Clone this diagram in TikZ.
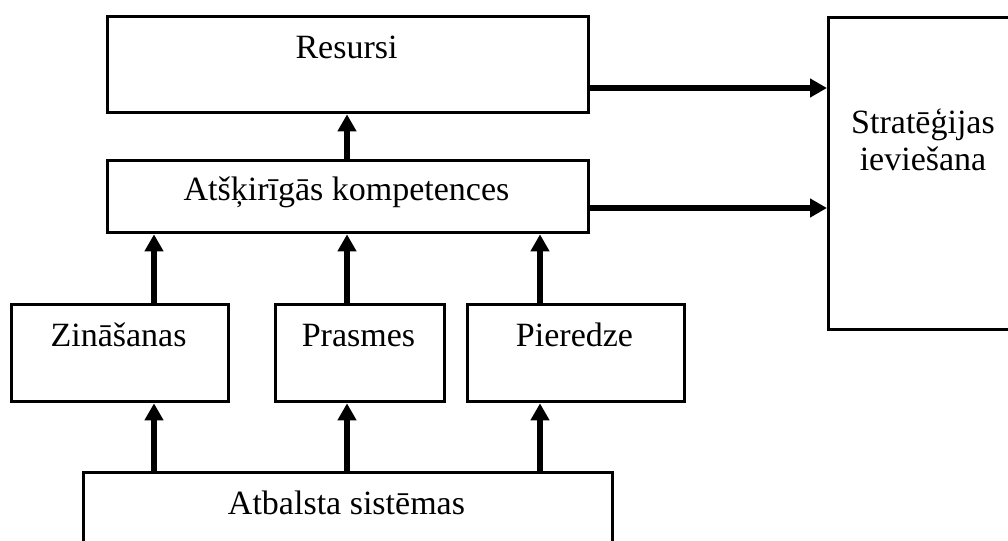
\documentclass[tikz,border=0pt]{standalone}
\usepackage{fontspec}
\setmainfont{Liberation Serif}
\usetikzlibrary{arrows.meta}
\begin{document}
\begin{tikzpicture}[x=0.75pt,y=-0.75pt,
  box/.style={draw=black,line width=2.5pt,inner sep=0pt,anchor=north west},
  boxtext/.style={font=\fontsize{25.5}{27.75}\selectfont,inner sep=0pt,align=center,anchor=base},
  arr/.style={line width=4.5pt,-{Triangle[length=12.75pt,width=13.5pt]}}]
\clip (0,0) rectangle (1008,540);
\fill[white] (0,0) rectangle (1008,540);
% boxes (sizes in px)
\node[box,minimum width=481*0.75pt,minimum height=96*0.75pt] (res) at (106,15) {};
\node[box,minimum width=481*0.75pt,minimum height=72*0.75pt] (atk) at (106,159) {};
\node[box,minimum width=192*0.75pt,minimum height=312*0.75pt] (str) at (827,16) {};
\node[box,minimum width=217*0.75pt,minimum height=97*0.75pt] (zin) at (10,303) {};
\node[box,minimum width=169*0.75pt,minimum height=97*0.75pt] (pra) at (274,303) {};
\node[box,minimum width=217*0.75pt,minimum height=97*0.75pt] (pie) at (466,303) {};
\node[box,minimum width=529*0.75pt,minimum height=100*0.75pt] (atb) at (82,471) {};
% texts (anchored at baseline)
\node[boxtext] (tres) at (346.5,58) {Resursi};
\node[boxtext] (tatk) at (346.5,200) {Atšķirīgās kompetences};
\node[boxtext] (tstr) at (923,170) {Stratēģijas\\ieviešana};
\node[boxtext] (tzin) at (118.5,346) {Zināšanas};
\node[boxtext] (tpra) at (358.5,346) {Prasmes};
\node[boxtext] (tpie) at (574.5,346) {Pieredze};
\node[boxtext] (tatb) at (346.5,514) {Atbalsta sistēmas};
% arrow columns / rows
\coordinate (c1) at (154,0);
\coordinate (c2) at (347,0);
\coordinate (c3) at (540,0);
\coordinate (r1) at (0,88);
\coordinate (r2) at (0,208);
% arrows
\draw[arr] (atb.north -| c1) -- (zin.south -| c1);
\draw[arr] (atb.north -| c2) -- (pra.south -| c2);
\draw[arr] (atb.north -| c3) -- (pie.south -| c3);
\draw[arr] (zin.north -| c1) -- (atk.south -| c1);
\draw[arr] (pra.north -| c2) -- (atk.south -| c2);
\draw[arr] (pie.north -| c3) -- (atk.south -| c3);
\draw[arr] (atk.north -| c2) -- (res.south -| c2);
\draw[arr] (res.east |- r1) -- (str.west |- r1);
\draw[arr] (atk.east |- r2) -- (str.west |- r2);
\end{tikzpicture}
\end{document}
